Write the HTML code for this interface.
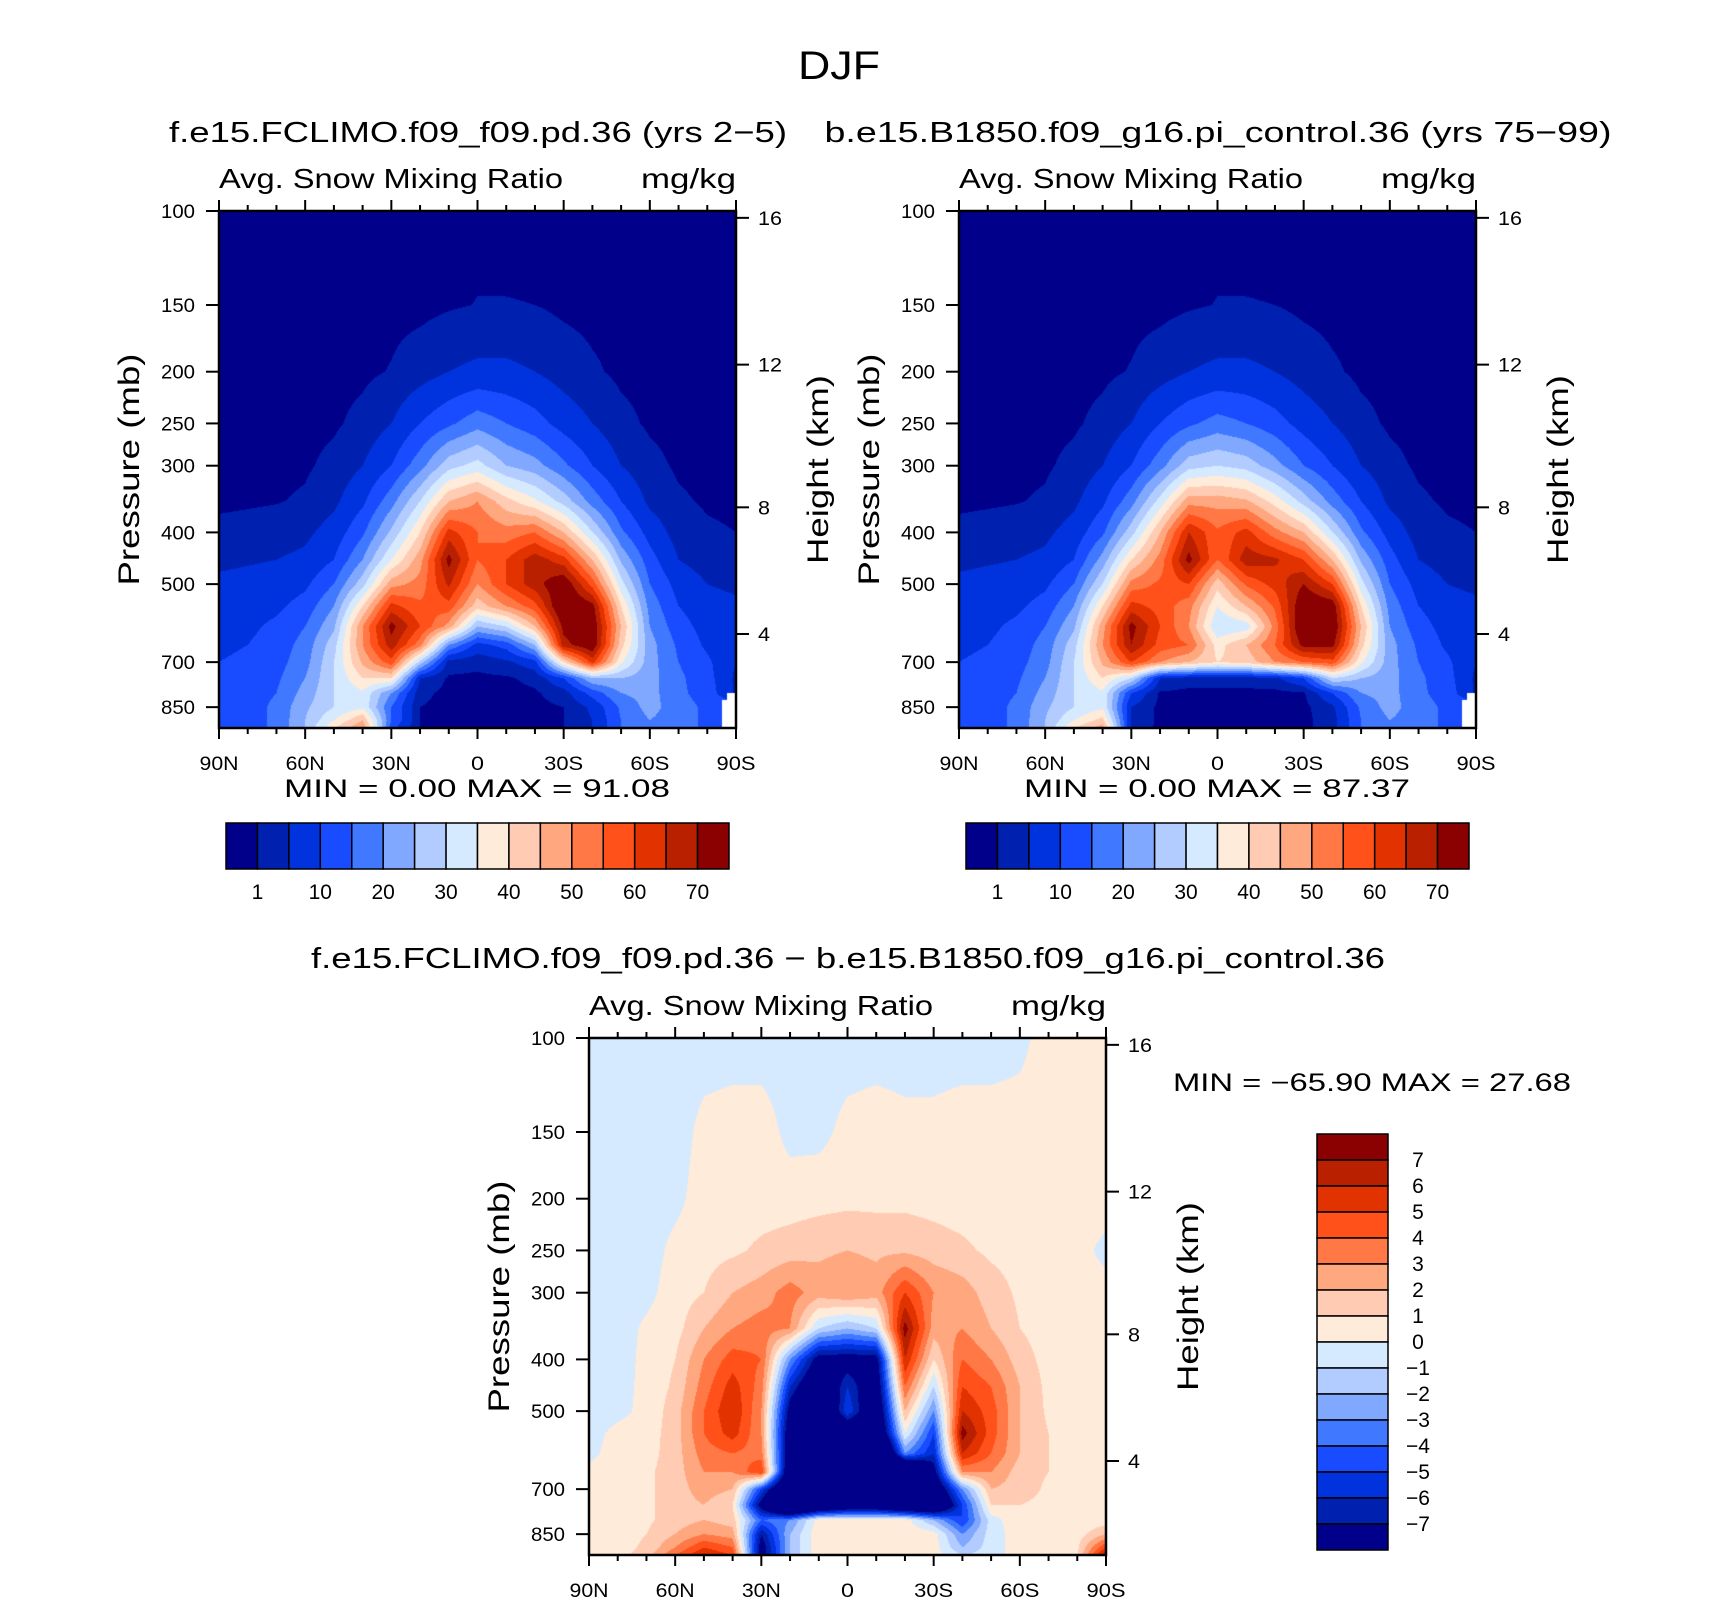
<!DOCTYPE html>
<html><head><meta charset="utf-8"><title>DJF Avg. Snow Mixing Ratio</title>
<style>
html,body{margin:0;padding:0;background:#fff;}
#wrap{position:relative;width:1710px;height:1601px;overflow:hidden;background:#fff;}
canvas{position:absolute;}
svg{position:absolute;left:0;top:0;}
text{font-family:"Liberation Sans",sans-serif;fill:#000;}
</style></head>
<body>
<div id="wrap">
<canvas id="c1" width="517" height="517" style="left:219px;top:211px"></canvas>
<canvas id="c2" width="517" height="517" style="left:959px;top:211px"></canvas>
<canvas id="c3" width="517" height="517" style="left:589px;top:1038px"></canvas>
<svg id="svg" width="1710" height="1601"></svg>
</div>
<script>
// ---- data ----
const lats = [90,80,70,60,50,40,30,20,10,0,-10,-20,-30,-40,-50,-60,-70,-80,-90];
const levels = [100,150,200,250,300,350,400,450,500,550,600,650,700,750,800,850,900,930];
const fieldA = [
[0,0,0,0,0,0,0,0,0,0,0,0,0,0,0,0,0,0,0],
[0,0,0,0,0,0,0,0,0.6,1.1,1.1,1,0.3,0,0,0,0,0,0],
[0,0,0,0,0,0.3,1.2,3,5,6,6,5,3,1.5,0.3,0,0,0,0],
[0,0,0,0,0.5,2,5,10,14,18,15,12,8,5,2,0.5,0,0,0],
[0,0,0,0.5,2,5,10,18,28,32,25,22,16,10,5,2,0.5,0,0],
[0.3,0.5,0.8,1.5,4,9,18,30,45,50,42,36,28,18,10,4,1.5,0.6,0.3],
[2,2.5,3,4,7,14,26,40,62,55,52,55,45,30,16,8,3,1.5,1],
[4,4.5,5,6,10,20,35,48,72,55,60,68,62,45,24,12,5,3,2],
[6,6.5,7,9,15,28,48,52,66,50,60,68,75,58,32,15,8,5,4],
[7,8,9,12,20,40,62,56,58,42,50,58,78,72,40,18,10,7,6],
[8,9,11,15,24,50,72,60,48,25,30,45,72,75,45,20,12,8,6],
[9,10,12,17,28,50,68,52,20,8,12,25,68,75,42,22,14,9,6],
[10,11,13,18,30,46,58,28,3,2,4,8,40,62,36,22,15,11,5],
[11,12,14,20,30,40,40,5,0.5,0.3,0.5,2,10,25,25,22,16,12,4],
[12,13,15,22,30,34,20,2,0,0,0,0.5,3,12,20,22,16,13,4],
[12,13,16,24,30,34,15,1,0,0,0,0,1,6,16,22,17,14,-999],
[12,13,16,25,35,45,15,1,0,0,0,0,1,5,15,20,17,14,-999],
[12,13,16,25,40,50,12,1,0,0,0,0,1,5,15,20,17,14,-999]
];
const fieldB = [
[0,0,0,0,0,0,0,0,0,0,0,0,0,0,0,0,0,0,0],
[0,0,0,0,0,0,0,0,0.6,1.1,1.1,1,0.3,0,0,0,0,0,0],
[0,0,0,0,0,0.3,1.2,3,5,6,6,5,3,1.5,0.3,0,0,0,0],
[0,0,0,0,0.5,2,5,10,14,17,15,12,8,5,2,0.5,0,0,0],
[0,0,0,0.5,2,5,10,18,28,30,28,22,15,10,5,2,0.5,0,0],
[0.3,0.5,0.8,1.5,4,9,18,32,48,48,46,38,28,18,10,4,1.5,0.6,0.3],
[2,2.5,3,4,7,14,28,45,65,56,62,52,45,30,16,8,3,1.5,1],
[4,4.5,5,6,10,22,40,52,72,55,68,66,60,45,24,12,5,3,2],
[6,6.5,7,9,15,30,52,56,60,42,56,62,70,60,32,15,8,5,4],
[7,8,9,12,20,40,62,58,52,35,45,56,76,74,40,18,10,7,6],
[8,9,11,15,24,48,72,60,50,30,32,52,78,76,45,20,12,8,6],
[9,10,12,17,28,50,70,58,55,38,45,55,72,72,42,22,14,9,6],
[10,11,13,18,30,46,60,50,45,40,42,50,55,58,36,22,15,11,5],
[11,12,14,20,30,40,30,5,3,3,3,4,10,30,25,22,16,12,4],
[12,13,15,22,30,34,10,0.5,0,0,0,0,0.5,10,20,22,16,13,4],
[12,13,16,24,30,34,5,0,0,0,0,0,0,4,16,22,17,14,-999],
[12,13,16,25,35,42,5,0,0,0,0,0,0,3,15,20,17,14,-999],
[12,13,16,25,40,48,4,0,0,0,0,0,0,3,15,20,17,14,-999]
];
const fieldDiff = [
[-0.5,-0.5,-0.5,-0.5,-0.5,-0.5,-0.5,-0.5,-0.5,-0.5,-0.5,-0.5,-0.5,-0.5,-0.5,-0.3,0.5,0.5,0.5],
[-0.5,-0.5,-0.5,-0.5,0.3,0.5,0.5,-0.3,-0.3,0.3,0.5,0.3,0.3,0.5,0.5,0.5,0.5,0.5,0.5],
[-0.5,-0.5,-0.5,-0.3,0.5,0.5,0.5,0.5,0.6,0.7,0.7,0.7,0.6,0.5,0.5,0.5,0.5,0.5,0.5],
[-0.5,-0.5,-0.5,0.3,0.6,0.8,1.2,1.5,1.8,2,1.8,1.8,1.5,1.2,0.8,0.6,0.5,0.4,-0.3],
[-0.5,-0.5,-0.3,0.5,1,2,2.5,3.5,2.5,3,2.5,5,3,2.5,1.5,0.8,0.5,0.4,0.4],
[-0.5,-0.5,0.2,0.6,2,3,3.5,3,-1,-2,-1,7.5,2.5,3,2,1,0.5,0.4,0.4],
[-0.5,-0.5,0.3,1,3,4.5,4,-3,-8,-8,-8,6,1,4,3,1.5,0.6,0.4,0.4],
[-0.5,-0.4,0.3,1.2,3.5,5.5,3.5,-6,-10,-6,-9,4,-1,5,4,2,0.7,0.4,0.4],
[-0.5,-0.3,0.3,1.5,4,6,3,-8,-12,-5,-10,2,-3,6,4.5,2,0.8,0.4,0.4],
[-0.4,0.3,0.5,1.5,4,5.5,3,-9,-12,-10,-11,0,-5,7.5,4.5,2,1,0.4,0.4],
[-0.3,0.5,0.6,1.5,3.5,4,3.5,-9,-15,-14,-15,-3,-6,6,4,2,1,0.5,0.4],
[0.3,0.5,0.8,1.5,3,3,5,-10,-20,-20,-20,-15,-8,3,3,1.5,1,0.5,0.5],
[0.4,0.5,0.8,1.5,2.5,2,-5,-12,-20,-20,-20,-20,-10,-3,2,1.5,0.8,0.5,0.5],
[0.4,0.5,0.8,1.5,2,1,-8,-15,-12,-10,-10,-12,-12,-5,1,1,0.7,0.4,0.4],
[0.4,0.5,0.8,1.5,2,1.5,-4,-3,0.5,0.5,0.5,0.5,-2,-5,-0.5,0.8,0.6,0.4,0.4],
[0.4,0.6,1,2,3,2.5,-7,-2,0.8,0.8,0.8,0.8,0.5,-3,-0.5,0.5,0.5,0.5,2],
[0.4,0.6,1.2,3,5,4,-8,-2,0.8,0.8,0.8,0.8,0.5,-2,-0.5,0.5,0.5,0.8,5],
[0.4,0.6,1.5,4,6,5,-8,-2,0.8,0.8,0.8,0.8,0.5,-1,-0.5,0.5,0.5,0.8,7]
];
const contourLevels = [1,5,10,15,20,25,30,35,40,45,50,55,60,65,70];
const contourLabels = ["1","10","20","30","40","50","60","70"];
const diffLevels = [-7,-6,-5,-4,-3,-2,-1,0,1,2,3,4,5,6,7];
const diffLabels = ["7","6","5","4","3","2","1","0","\u22121","\u22122","\u22123","\u22124","\u22125","\u22126","\u22127"];
const pressureTicks = [100,150,200,250,300,400,500,700,850];
const heightTicks = ["16","12","8","4"];
const heightPressure = [103,194,359,620];
const latTicks = [90,60,30,0,-30,-60,-90];
const latTickLabels = ["90N","60N","30N","0","30S","60S","90S"];
const statsA = ["0.00","91.08"];
const statsB = ["0.00","87.37"];
const statsDiff = ["\u221265.90","27.68"];
const palette = ["#00008a","#0020b0","#0033dd","#1a4cff","#4078ff","#80a8ff","#b3ccff","#d6eaff","#ffebd9","#ffccb3","#ffa880","#ff7845","#ff5119","#e13200","#b82000","#8b0000"];

// ---- helpers ----
const PBOT = 930, SIZE = 517;
function xOf(lat, left){ return left + (90 - lat) / 180 * SIZE; }
function yOf(p, top){ return top + Math.log(p/100)/Math.log(PBOT/100) * SIZE; }
function hex(c){ return [parseInt(c.substr(1,2),16),parseInt(c.substr(3,2),16),parseInt(c.substr(5,2),16)]; }
const palRGB = palette.map(hex);
function colorIdx(v, lv){ let i=0; while(i<lv.length && v>=lv[i]) i++; return i; }

function drawField(canvasId, field, lv){
  const cv = document.getElementById(canvasId);
  const ctx = cv.getContext('2d');
  const img = ctx.createImageData(SIZE, SIZE);
  const lnL = levels.map(p=>Math.log(p));
  for(let py=0; py<SIZE; py++){
    const lp = Math.log(100) + (py+0.5)/SIZE*Math.log(PBOT/100);
    let j=0; while(j<levels.length-2 && lnL[j+1]<lp) j++;
    let fy=(lp-lnL[j])/(lnL[j+1]-lnL[j]); fy=Math.max(0,Math.min(1,fy));
    for(let px=0; px<SIZE; px++){
      const gx=(px+0.5)/SIZE*(lats.length-1);
      let i=Math.min(lats.length-2,Math.floor(gx)); const fx=gx-i;
      const a=field[j][i],b=field[j][i+1],c=field[j+1][i],d=field[j+1][i+1];
      const k=(py*SIZE+px)*4;
      let miss = false;
      if(a===-999||b===-999||c===-999||d===-999){
        const ni = fx<0.5?i:i+1, nj = fy<0.5?j:j+1;
        if(field[nj][ni]===-999 || (fx>0.7 && (b===-999||d===-999))) miss=true;
      }
      if(miss){ img.data[k]=255;img.data[k+1]=255;img.data[k+2]=255;img.data[k+3]=255; continue; }
      const A=a===-999?(b!==-999?b:c):a, B=b===-999?A:b, C=c===-999?A:c, D=d===-999?C:d;
      const v=(A*(1-fx)+B*fx)*(1-fy)+(C*(1-fx)+D*fx)*fy;
      const col=palRGB[colorIdx(v,lv)];
      img.data[k]=col[0];img.data[k+1]=col[1];img.data[k+2]=col[2];img.data[k+3]=255;
    }
  }
  ctx.putImageData(img,0,0);
}
drawField('c1', fieldA, contourLevels);
drawField('c2', fieldB, contourLevels);
drawField('c3', fieldDiff, diffLevels);

const NS='http://www.w3.org/2000/svg';
const svg=document.getElementById('svg');
function mk(tag, attrs, parent){ const e=document.createElementNS(NS,tag); for(const k in attrs) e.setAttribute(k,attrs[k]); (parent||svg).appendChild(e); return e; }
function txt(s, x, y, size, anchor, name, rot, len){
  const t=mk('text',{x:x,y:y,'font-size':size,'text-anchor':anchor||'start'});
  if(rot) t.setAttribute('transform','rotate(-90 '+x+' '+y+')');
  if(len){ t.setAttribute('textLength', len); t.setAttribute('lengthAdjust','spacingAndGlyphs'); }
  t.setAttribute('xml:space','preserve');
  t.textContent=s;
  
  
  return t;
}

function panelAxes(left, top, prefix){
  const g=mk('g',{});
  
  
  mk('rect',{x:left,y:top,width:SIZE,height:SIZE,fill:'none',stroke:'#000','stroke-width':2.5},g);
  for(let lat=90; lat>=-90; lat-=10){
    const x=xOf(lat,left), major=(lat%30===0);
    const L=major?11:6;
    mk('line',{x1:x,y1:top+SIZE,x2:x,y2:top+SIZE+L,stroke:'#000','stroke-width':2},g);
    mk('line',{x1:x,y1:top,x2:x,y2:top-L,stroke:'#000','stroke-width':2},g);
  }
  latTicks.forEach((lat,i)=>{
    const s=latTickLabels[i];
    txt(s, xOf(lat,left), top+SIZE+42, 19, 'middle', prefix+'-x-tick-label', false, s.length*13);
  });
  pressureTicks.forEach(p=>{
    const y=yOf(p,top);
    mk('line',{x1:left-13,y1:y,x2:left,y2:y,stroke:'#000','stroke-width':2},g);
    txt(String(p), left-24, y+7, 19, 'end', prefix+'-y-tick-label', false, 34);
  });
  heightPressure.forEach((p,i)=>{
    const y=yOf(p,top);
    mk('line',{x1:left+SIZE,y1:y,x2:left+SIZE+13,y2:y,stroke:'#000','stroke-width':2},g);
    txt(heightTicks[i], left+SIZE+22, y+7, 19, 'start', prefix+'-height-tick-label', false, heightTicks[i].length*12);
  });
  txt('Avg. Snow Mixing Ratio', left, top-23, 28, 'start', prefix+'-variable-label', false, 344);
  txt('mg/kg', left+SIZE, top-23, 28, 'end', prefix+'-units-label', false, 95);
  txt('Pressure (mb)', left-80, top+SIZE/2, 30, 'middle', prefix+'-y-axis-title', true, 232);
  txt('Height (km)', left+SIZE+92, top+SIZE/2, 30, 'middle', prefix+'-height-axis-title', true, 189);
}

function hColorbar(left, top, prefix){
  const w=503/16, h=46;
  palette.forEach((c,i)=>{
    const r=mk('rect',{x:left+i*w,y:top,width:w,height:h,fill:c,stroke:'#000','stroke-width':1.5});
    
    
  });
  contourLabels.forEach((s,i)=>{
    txt(s, left+(1+2*i)*w, top+h+30, 21, 'middle', prefix+'-colorbar-label');
  });
}

// titles
txt('DJF', 839, 79, 40, 'middle', 'figure-title', false, 82);
txt('f.e15.FCLIMO.f09_f09.pd.36 (yrs 2\u22125)', 478, 142, 29, 'middle', 'panel-1-title', false, 618);
txt('b.e15.B1850.f09_g16.pi_control.36 (yrs 75\u221299)', 1218, 142, 29, 'middle', 'panel-2-title', false, 787);
txt('f.e15.FCLIMO.f09_f09.pd.36 \u2212 b.e15.B1850.f09_g16.pi_control.36', 848, 968, 29, 'middle', 'difference-title', false, 1074);

panelAxes(219, 211, 'panel-1');
panelAxes(959, 211, 'panel-2');
panelAxes(589, 1038, 'difference');

txt('MIN =    '+statsA[0]+'   MAX =   '+statsA[1], 284, 797, 25, 'start', 'panel-1-min-max', false, 386);
txt('MIN =    '+statsB[0]+'   MAX =   '+statsB[1], 1024, 797, 25, 'start', 'panel-2-min-max', false, 386);
txt('MIN = '+statsDiff[0]+'   MAX =   '+statsDiff[1], 1173, 1091, 25, 'start', 'difference-min-max', false, 398);

hColorbar(226, 823, 'panel-1');
hColorbar(966, 823, 'panel-2');

// vertical diff colorbar
(function(){
  const left=1317, top=1134, w=71, h=416/16;
  for(let i=0;i<16;i++){
    const r=mk('rect',{x:left,y:top+i*h,width:w,height:h,fill:palette[15-i],stroke:'#000','stroke-width':1.5});
    
    
  }
  diffLabels.forEach((s,i)=>{
    txt(s, left+w+30, top+(i+1)*h+7, 21, 'middle', 'difference-colorbar-label');
  });
})();
</script>
</body></html>
